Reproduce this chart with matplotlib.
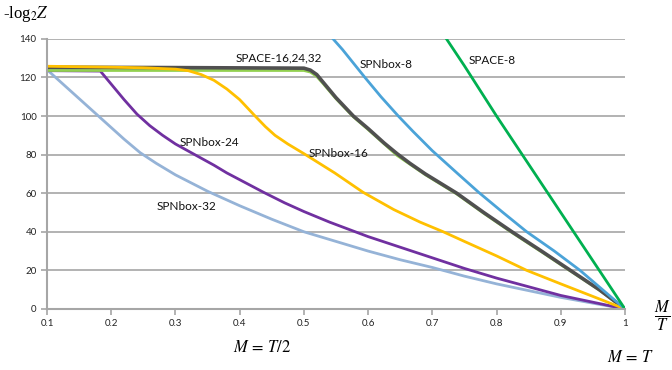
import matplotlib
matplotlib.use("Agg")
import matplotlib.pyplot as plt

plt.rcParams['font.family'] = ['Lato', 'DejaVu Sans']
plt.rcParams['mathtext.fontset'] = 'stix'
plt.rcParams['lines.solid_joinstyle'] = 'round'

# curves: M/T -> -log2 Z
space8_x = [0.70, 0.75, 0.80, 0.85, 0.90, 0.95, 1.00]
space8_y = [151, 126, 100, 75, 50, 25, 0]

spnbox8_x = [0.54, 0.56, 0.595, 0.62, 0.647, 0.67, 0.70, 0.74, 0.772, 0.81, 0.847, 0.89, 0.93, 0.965, 1.00]
spnbox8_y = [142, 134.5, 120, 110, 100, 92, 82, 70, 60.5, 50, 40, 30, 20, 10, 0]

space16_x = [0.10, 0.30, 0.50, 0.51, 0.52, 0.53, 0.55, 0.577, 0.60, 0.645, 0.689, 0.738, 0.78, 0.824, 0.87, 0.915, 0.96, 1.00]
space16_y = [123.6, 123.6, 123.6, 122.8, 120.5, 116.8, 109, 99.6, 93, 79.6, 69.6, 59.6, 49.6, 39.6, 29.6, 19.7, 9.8, 0]

space_x = [0.10, 0.30, 0.50, 0.51, 0.52, 0.53, 0.55, 0.577, 0.60, 0.625, 0.645, 0.665, 0.689, 0.738, 0.78, 0.824, 0.87, 0.915, 0.96, 1.00]
space_y = [125.3, 125.1, 124.8, 123.8, 121.5, 117.5, 109.5, 100, 93.5, 86, 80.5, 75.5, 70, 60, 50, 40, 30, 20, 10, 0]

spnbox16_x = [0.10, 0.20, 0.25, 0.30, 0.32, 0.34, 0.36, 0.38, 0.40, 0.424, 0.44, 0.455, 0.475, 0.50, 0.548, 0.592,
              0.64, 0.681, 0.717, 0.75, 0.80, 0.847, 0.90, 0.95, 1.00]
spnbox16_y = [125.8, 125.3, 125, 124.3, 123.5, 121.5, 118.5, 114, 108.5, 100, 94.5, 90, 85.5, 80.5, 70.5, 60.5,
              51.5, 45, 40, 35, 27.5, 20, 13, 6.5, 0]

spnbox24_x = [0.10, 0.183, 0.20, 0.22, 0.24, 0.26, 0.28, 0.30, 0.33, 0.36, 0.38, 0.40, 0.437, 0.47, 0.50,
              0.54, 0.572, 0.60, 0.65, 0.70, 0.75, 0.80, 0.85, 0.90, 0.95, 1.00]
spnbox24_y = [123.5, 123.3, 116.5, 108.5, 101, 95, 90, 85.5, 80, 74.5, 70.5, 67, 60.5, 55, 50.5,
              45, 41, 37.5, 32, 26.5, 21, 16, 11.5, 7, 3.5, 0]

spnbox32_x = [0.10, 0.14, 0.18, 0.20, 0.22, 0.245, 0.27, 0.30, 0.35, 0.40, 0.45, 0.50, 0.55, 0.60, 0.65,
              0.70, 0.75, 0.80, 0.85, 0.90, 0.95, 1.00]
spnbox32_y = [124, 112, 100, 94, 88, 81, 75.5, 69.5, 61, 53.5, 46.5, 40, 35, 30, 25.5,
              21.5, 17, 13, 9.5, 6, 3, 0]

labels = ['SPACE-8', 'SPNbox-8', 'SPACE-16,24,32', 'SPNbox-16', 'SPNbox-24', 'SPNbox-32']
label_x = [0.757, 0.587, 0.393, 0.508, 0.306, 0.271]
label_y = [129, 126.5, 130, 80.8, 86.5, 53.2]

fig = plt.figure(figsize=(6.72, 3.70), dpi=100)
ax = fig.add_axes([0.070, 0.165, 0.860, 0.730])

ax.plot(spnbox32_x, spnbox32_y, color='#95B3D7', lw=2)
ax.plot(spnbox24_x, spnbox24_y, color='#7030A0', lw=2)
ax.plot(space16_x, space16_y, color='#92D050', lw=2)
ax.plot(space_x, space_y, color='#505050', lw=2.6)
ax.plot(spnbox16_x, spnbox16_y, color='#FFC000', lw=2)
ax.plot(spnbox8_x, spnbox8_y, color='#4BA3D8', lw=2)
ax.plot(space8_x, space8_y, color='#00B050', lw=2)

for t, x, y in zip(labels, label_x, label_y):
    ax.text(x, y, t, fontsize=8.5, va='center', ha='left', color='#111111')

ax.set_xlim(0.1, 1.0)
ax.set_ylim(0, 140)
ax.set_xticks([0.1, 0.2, 0.3, 0.4, 0.5, 0.6, 0.7, 0.8, 0.9, 1.0])
ax.set_xticklabels(['0.1', '0.2', '0.3', '0.4', '0.5', '0.6', '0.7', '0.8', '0.9', '1'])
ax.set_yticks(range(0, 141, 20))
ax.grid(axis='y', color='#A6A6A6', lw=1.2)
ax.set_axisbelow(True)
ax.tick_params(labelsize=7, colors='#A6A6A6', labelcolor='#222222', length=4, width=1.2)
for s in ['top', 'right']:
    ax.spines[s].set_visible(False)
for s in ['left', 'bottom']:
    ax.spines[s].set_color('#A6A6A6')
    ax.spines[s].set_linewidth(1.5)

fig.text(0.005, 0.962, r'-log$_2$$Z$', fontsize=12, family='Liberation Serif', va='center')
fig.text(0.985, 0.145, r'$\frac{M}{T}$', fontsize=17, ha='center', va='center')
fig.text(0.390, 0.062, r'$M\,=\,T/2$', fontsize=12, ha='center', va='center')
fig.text(0.938, 0.035, r'$M\,=\,T$', fontsize=12, ha='center', va='center')

fig.savefig('out.png', dpi=100)
